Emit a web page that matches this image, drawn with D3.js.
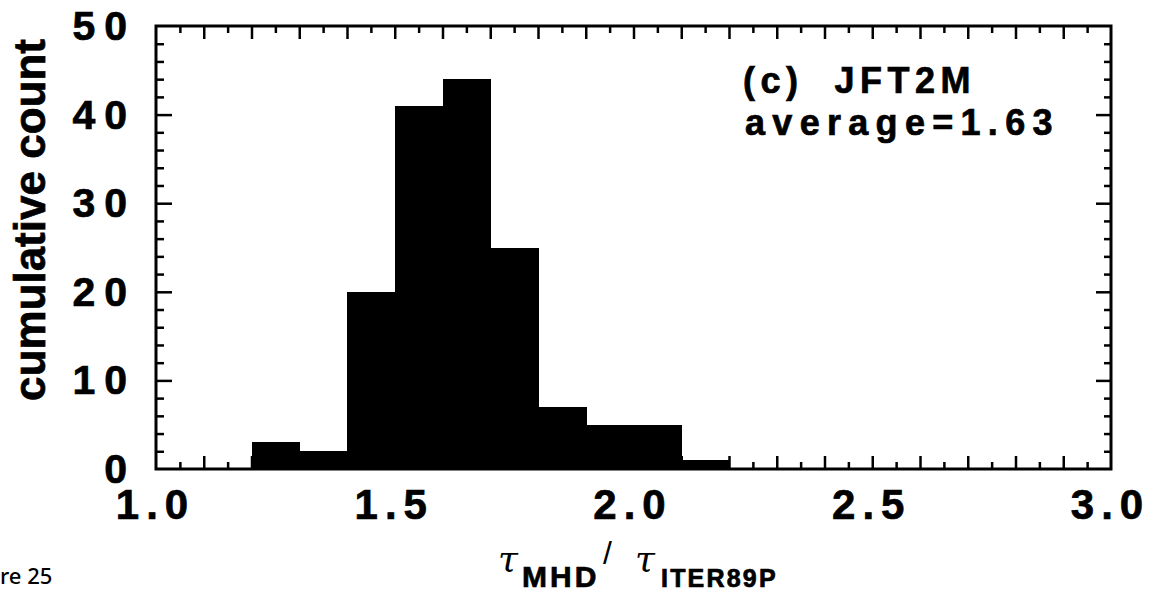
<!DOCTYPE html>
<html>
<head>
<meta charset="utf-8">
<script src="https://cdn.jsdelivr.net/npm/d3@7"></script>
<style>
  html, body { margin: 0; padding: 0; background: #fff; }
  svg { display: block; }
</style>
</head>
<body>
<svg id="chart" width="1158" height="592"></svg>
<script>
// ---- data ----
const binStarts = [1.2, 1.3, 1.4, 1.5, 1.6, 1.7, 1.8, 1.9, 2.0, 2.1];
const binEnds   = [1.3, 1.4, 1.5, 1.6, 1.7, 1.8, 1.9, 2.0, 2.1, 2.2];
const counts    = [3, 2, 20, 41, 44, 25, 7, 5, 5, 1];
const xDomain = [1.0, 3.0];
const yDomain = [0, 50];
const xTickValues = [1.0, 1.5, 2.0, 2.5, 3.0];
const xTickLabels = ["1.0", "1.5", "2.0", "2.5", "3.0"];
const yTickValues = [0, 10, 20, 30, 40, 50];
const yTickLabels = ["0", "10", "20", "30", "40", "50"];
const yTitle = "cumulative count";
const annotation1 = "(c)  JFT2M";
const annotation2 = "average=1.63";
const xTitleParts = ["τ", "MHD", "/", "τ", "ITER89P"];
const captionVisible = "re 25"; // visible tail of the page caption "Figure 25"

// ---- layout ----
const L = 156, R = 1111, T = 26, B = 469;
const svg = d3.select("#chart");
const x = d3.scaleLinear().domain(xDomain).range([L, R]);
const y = d3.scaleLinear().domain(yDomain).range([B, T]);
const SANS = "'Liberation Sans', Arial, Helvetica, sans-serif";
const SERIF = "'DejaVu Serif', 'Liberation Serif', serif";

function boldText(sel, size, ls) {
  return sel.attr("font-family", SANS).attr("font-weight", "bold")
    .attr("font-size", size).attr("letter-spacing", ls + "px")
    .attr("fill", "#000").attr("stroke", "#000").attr("stroke-width", 0.7);
}

// bars
const bins = binStarts.map((s, i) => ({ x0: s, x1: binEnds[i], v: counts[i] }));
svg.append("g").attr("shape-rendering", "crispEdges")
  .selectAll("rect").data(bins).join("rect")
  .attr("x", d => x(d.x0))
  .attr("width", d => x(d.x1) - x(d.x0) + 1)
  .attr("y", d => y(d.v))
  .attr("height", d => y(0) - y(d.v))
  .attr("fill", "#000");

// minor / major tick sets
const xLong = d3.range(11, 30).map(v => v / 10);
const xShort = d3.range(10, 30).map(v => (v + 0.5) / 10);
const yLong = d3.range(10, 50, 10);
const yShort = d3.range(2, 50, 2).filter(v => v % 10 !== 0);

function styleTicks(g, w) {
  g.select(".domain").remove();
  g.selectAll(".tick line").attr("stroke", "#000").attr("stroke-width", w);
  g.selectAll(".tick text").remove();
}
// bottom
svg.append("g").attr("transform", `translate(0,${B})`)
  .call(d3.axisBottom(x).tickValues(xLong).tickSize(-13).tickFormat(""))
  .call(g => styleTicks(g, 2.5));
svg.append("g").attr("transform", `translate(0,${B})`)
  .call(d3.axisBottom(x).tickValues(xShort).tickSize(-7).tickFormat(""))
  .call(g => styleTicks(g, 2.5));
// top
svg.append("g").attr("transform", `translate(0,${T})`)
  .call(d3.axisTop(x).tickValues(xLong).tickSize(-13).tickFormat(""))
  .call(g => styleTicks(g, 2.5));
svg.append("g").attr("transform", `translate(0,${T})`)
  .call(d3.axisTop(x).tickValues(xShort).tickSize(-7).tickFormat(""))
  .call(g => styleTicks(g, 2.5));
// left
svg.append("g").attr("transform", `translate(${L},0)`)
  .call(d3.axisLeft(y).tickValues(yLong).tickSize(-16).tickFormat(""))
  .call(g => styleTicks(g, 2.5));
svg.append("g").attr("transform", `translate(${L},0)`)
  .call(d3.axisLeft(y).tickValues(yShort).tickSize(-8).tickFormat(""))
  .call(g => styleTicks(g, 2.5));
// right
svg.append("g").attr("transform", `translate(${R},0)`)
  .call(d3.axisRight(y).tickValues(yLong).tickSize(-15).tickFormat(""))
  .call(g => styleTicks(g, 2.5));
svg.append("g").attr("transform", `translate(${R},0)`)
  .call(d3.axisRight(y).tickValues(yShort).tickSize(-7).tickFormat(""))
  .call(g => styleTicks(g, 2.5));

// frame
svg.append("rect")
  .attr("x", L).attr("y", T).attr("width", R - L).attr("height", B - T)
  .attr("fill", "none").attr("stroke", "#000").attr("stroke-width", 3);

// x tick labels
const gx = svg.append("g").attr("transform", `translate(0,${B})`)
  .call(d3.axisBottom(x).tickValues(xTickValues).tickSize(0).tickPadding(20)
    .tickFormat((d, i) => xTickLabels[i]));
gx.select(".domain").remove();
gx.selectAll(".tick text").call(s => boldText(s, 42, 7))
  .attr("dx", -1).attr("dy", "0.71em").attr("y", 20);

// y tick labels
const gy = svg.append("g").attr("transform", `translate(${L},0)`)
  .call(d3.axisLeft(y).tickValues(yTickValues).tickSize(0).tickPadding(20)
    .tickFormat((d, i) => yTickLabels[i]));
gy.select(".domain").remove();
gy.selectAll(".tick text").call(s => boldText(s, 41, 9))
  .attr("dy", "0.33em");

// y title
svg.append("text")
  .attr("transform", "translate(45,220) rotate(-90)")
  .attr("text-anchor", "middle")
  .call(s => boldText(s, 44, 0))
  .text(yTitle);

// annotation
svg.append("text").attr("x", 743).attr("y", 93)
  .attr("xml:space", "preserve").style("white-space", "pre")
  .call(s => boldText(s, 36, 5.5))
  .text(annotation1);
svg.append("text").attr("x", 745).attr("y", 135)
  .call(s => boldText(s, 36, 7.3))
  .text(annotation2);

// x title: tau_MHD / tau_ITER89P
const xtPos = [
  { x: 498, y: 571, kind: "tau" },
  { x: 522, y: 587, kind: "sub", size: 30, ls: 3 },
  { x: 603, y: 564, kind: "slash" },
  { x: 635, y: 571, kind: "tau" },
  { x: 661, y: 587, kind: "sub", size: 25, ls: 2.2 }
];
xTitleParts.forEach((t, i) => {
  const p = xtPos[i];
  const el = svg.append("text").attr("x", p.x).attr("y", p.y).text(t);
  if (p.kind === "tau") {
    el.attr("font-family", SERIF).attr("font-style", "italic")
      .attr("font-size", 36).attr("fill", "#000");
  } else if (p.kind === "slash") {
    el.attr("font-family", SANS).attr("font-size", 32).attr("fill", "#000");
  } else {
    el.call(s => boldText(s, p.size, p.ls));
  }
});

// visible part of the page caption at bottom-left
svg.append("text")
  .attr("x", 0).attr("y", 584)
  .attr("font-family", "'Noto Sans', sans-serif").attr("font-size", 22)
  .attr("font-weight", 500)
  .attr("fill", "#000").text(captionVisible);
</script>
</body>
</html>
